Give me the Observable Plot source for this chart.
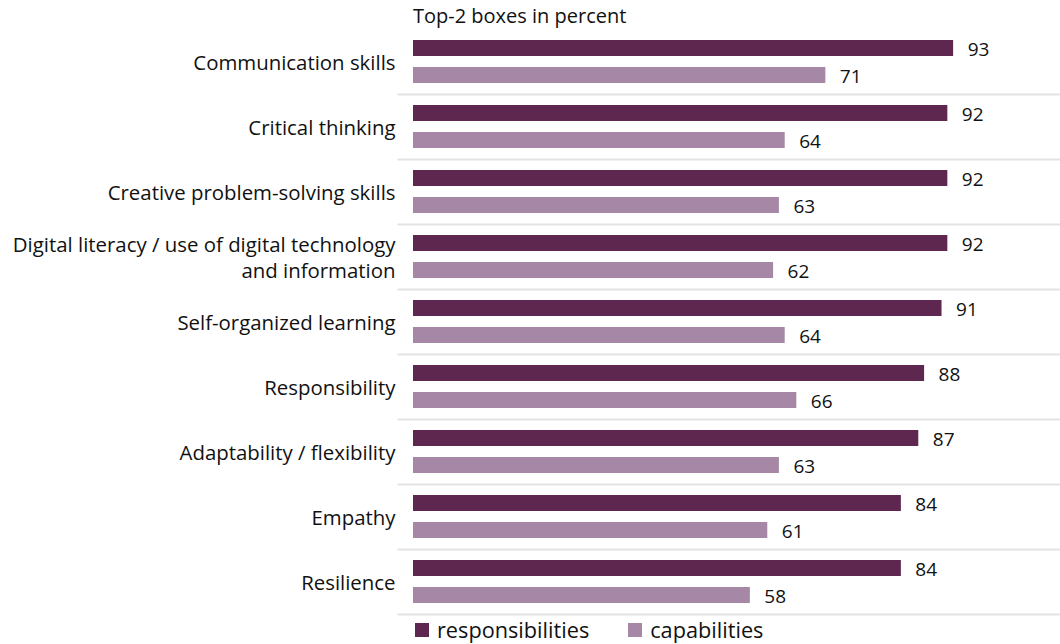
<!DOCTYPE html>
<html>
<head>
<meta charset="utf-8">
<script src="https://cdn.jsdelivr.net/npm/d3@7"></script>
<script src="https://cdn.jsdelivr.net/npm/@observablehq/plot@0.6"></script>
<style>
  html, body { margin: 0; padding: 0; background: #fff; }
  body { width: 1060px; height: 644px; overflow: hidden; font-family: "Open Sans", sans-serif; color: #111; }
  #title { box-sizing: border-box; height: 26px; padding-top: 6px; padding-left: 413px; font-size: 20px; line-height: 20px; }
  #chart svg { display: block; overflow: visible; }
  #legend { box-sizing: border-box; height: 24px; padding-left: 415px; display: flex; align-items: center; font-size: 21.7px; line-height: 24px; }
  .sw { display: inline-block; width: 14px; height: 14px; margin-right: 8px; }
  .item { display: inline-flex; align-items: center; margin-right: 39px; }
</style>
</head>
<body>
<div id="title">Top-2 boxes in percent</div>
<div id="chart"></div>
<div id="legend"></div>
<script>
const categories = [
  "Communication skills",
  "Critical thinking",
  "Creative problem-solving skills",
  "Digital literacy / use of digital technology\nand information",
  "Self-organized learning",
  "Responsibility",
  "Adaptability / flexibility",
  "Empathy",
  "Resilience"
];
const seriesNames = ["responsibilities", "capabilities"];
const responsibilities = [93, 92, 92, 92, 91, 88, 87, 84, 84];
const capabilities = [71, 64, 63, 62, 64, 66, 63, 61, 58];
const seriesColors = ["#5E2750", "#A688A6"];

const rows = [];
categories.forEach((c, i) => {
  rows.push({category: c, series: seriesNames[0], value: responsibilities[i]});
  rows.push({category: c, series: seriesNames[1], value: capabilities[i]});
});

const plot = Plot.plot({
  width: 1060,
  height: 592,
  marginTop: 0,
  marginBottom: 2,
  marginLeft: 398,
  marginRight: 0,
  style: {fontFamily: "Open Sans, sans-serif", fontSize: "16px", color: "#111", background: "#fff"},
  x: {domain: [0, 111.4], axis: null, insetLeft: 15},
  y: {domain: seriesNames, axis: null, paddingInner: 0.393, paddingOuter: 0.366, align: 0.5},
  fy: {domain: categories, padding: 0},
  color: {domain: seriesNames, range: seriesColors},
  marks: [
    Plot.frame({anchor: "bottom", stroke: "#e3e3e3", strokeWidth: 2}),
    Plot.barX(rows, {fy: "category", y: "series", x: "value", fill: "series"}),
    Plot.text(rows, {fy: "category", y: "series", x: "value", text: d => String(d.value), textAnchor: "start", dx: 14, dy: 1, fontSize: 19, fill: "#111"}),
    Plot.axisFy({anchor: "left", tickSize: 0, tickPadding: 3, fontSize: 20.4, lineHeight: 1.25, label: null, fill: "#111"})
  ]
});
document.getElementById("chart").appendChild(plot);

const legend = document.getElementById("legend");
const color = plot.scale("color");
seriesNames.forEach(name => {
  const item = document.createElement("span");
  item.className = "item";
  const sw = document.createElement("span");
  sw.className = "sw";
  sw.style.background = color.apply(name);
  item.appendChild(sw);
  item.appendChild(document.createTextNode(name));
  legend.appendChild(item);
});
</script>
</body>
</html>
